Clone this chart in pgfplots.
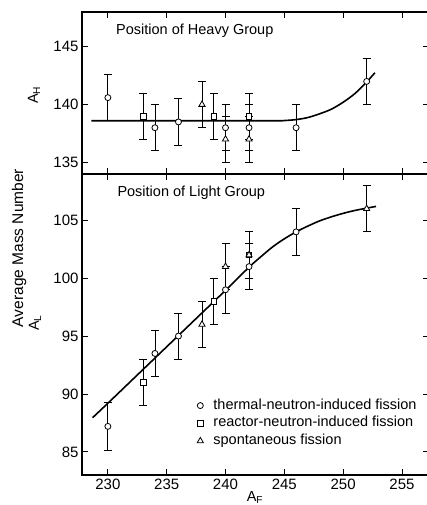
\documentclass[border=0pt]{standalone}
\usepackage{fontspec}
\setmainfont{Liberation Sans}
\usepackage{pgfplots}
\pgfplotsset{compat=1.18}
\pgfplotsset{
  myax/.style={scale only axis, width=347pt, xmin=227.8, xmax=257.3,
    axis line style={line width=1.1pt}, tick style={line width=0.9pt, black},
    major tick length=6pt, xtick={230,235,...,255},
    /pgf/number format/assume math mode=true,
    ticklabel style={font=\fontsize{15}{18}\selectfont},
    legend image code/.code={\draw[#1] plot coordinates {(0pt,0pt)};}},
  eb/.style={only marks, black, error bars/.cd, y dir=both, y explicit,
    error bar style={line width=0.8pt, black},
    error mark options={rotate=90, mark size=4pt, line width=0.8pt, black}},
  circ/.style={mark=*, mark size=3pt, mark options={fill=white, draw=black, line width=0.8pt}},
  sq/.style={mark=square*, mark size=2.8pt, mark options={fill=white, draw=black, line width=0.8pt}},
  tri/.style={mark=triangle*, mark size=3.6pt, mark options={fill=white, draw=black, line width=0.8pt}},
  curve/.style={black, line width=1.6pt, smooth, no marks}
}
\begin{document}
\begin{tikzpicture}
\useasboundingbox (0pt,0pt) rectangle (427pt,505pt);
% upper panel
\begin{axis}[myax, at={(82pt,331pt)}, anchor=south west, height=162pt,
  ymin=134, ymax=148, ytick={135,140,145}, xticklabels={}]
\addplot[curve] coordinates {(228.6,138.6) (236,138.6) (244,138.6) (245,138.62) (246,138.7) (247,138.88) (248,139.2) (249,139.6) (250,140.2) (251,140.95) (252,141.95) (252.7,142.75)};
\addplot[circ, eb] table[x=x, y=y, y error=e] {
x y e
230 140.6 2
234 138 2
236 138.5 2
240 138 2
242 138 2
246 138 2
252 142 2
};
\addplot[sq, eb] table[x=x, y=y, y error=e] {
x y e
233 139 2
239 139 2
242 139 2
};
\addplot[tri, eb] table[x=x, y=y, y error=e] {
x y e
238 140 2
240 137 2
242 137 2
};
\end{axis}
% lower panel
\begin{axis}[myax, at={(82pt,30pt)}, anchor=south west, height=301pt,
  ymin=83, ymax=109, ytick={85,90,...,105},
  legend style={draw=none, fill=none, at={(rel axis cs:0.3314,0.1718)}, anchor=west,
    inner sep=0pt, column sep=9pt, row sep=2.7pt,
    font=\fontsize{14.5}{17}\selectfont,
    nodes={inner sep=1pt, text height=10pt, text depth=3pt}},
  legend cell align=left]
\addplot[curve, forget plot] coordinates {(228.7,87.95) (230,89.2) (232,91.15) (234,93.1) (236,95.05) (238,97.0) (240,98.95) (242,100.95) (243,101.85) (244,102.7) (245,103.4) (246,104.0) (247,104.5) (248,104.95) (249,105.3) (250,105.6) (251,105.85) (252,106.05) (252.8,106.2)};
\addplot[circ, eb] table[x=x, y=y, y error=e] {
x y e
230 87.2 2.1
234 93.5 2
236 95 2
240 99 2
242 101 2
246 104 2
};
\addlegendentry{thermal-neutron-induced fission}
\addplot[sq, eb] table[x=x, y=y, y error=e] {
x y e
233 91 2
239 98 2
242 102 2
};
\addlegendentry{reactor-neutron-induced fission}
\addplot[tri, eb] table[x=x, y=y, y error=e] {
x y e
238 96 2
240 101 2
242 102 2
252 106 2
};
\addlegendentry{spontaneous fission}
\end{axis}
% texts
\node[anchor=base west, inner sep=0pt, font=\fontsize{14.5}{17}\selectfont] at (116pt,470.7pt) {Position of Heavy Group};
\node[anchor=base west, inner sep=0pt, font=\fontsize{14.5}{17}\selectfont] at (117.3pt,308pt) {Position of Light Group};
\node[rotate=90, inner sep=0pt, font=\fontsize{15.5}{18}\selectfont] at (19pt,257pt) {Average Mass Number};
\node[rotate=90, inner sep=0pt, font=\fontsize{14.5}{17}\selectfont] at (34pt,410pt) {A\textsubscript{H}};
\node[rotate=90, inner sep=0pt, font=\fontsize{14.5}{17}\selectfont] at (35pt,182pt) {A\textsubscript{L}};
\node[anchor=south, inner sep=0pt, font=\fontsize{14.5}{17}\selectfont] at (255pt,1pt) {A\textsubscript{F}};
\end{tikzpicture}
\end{document}
